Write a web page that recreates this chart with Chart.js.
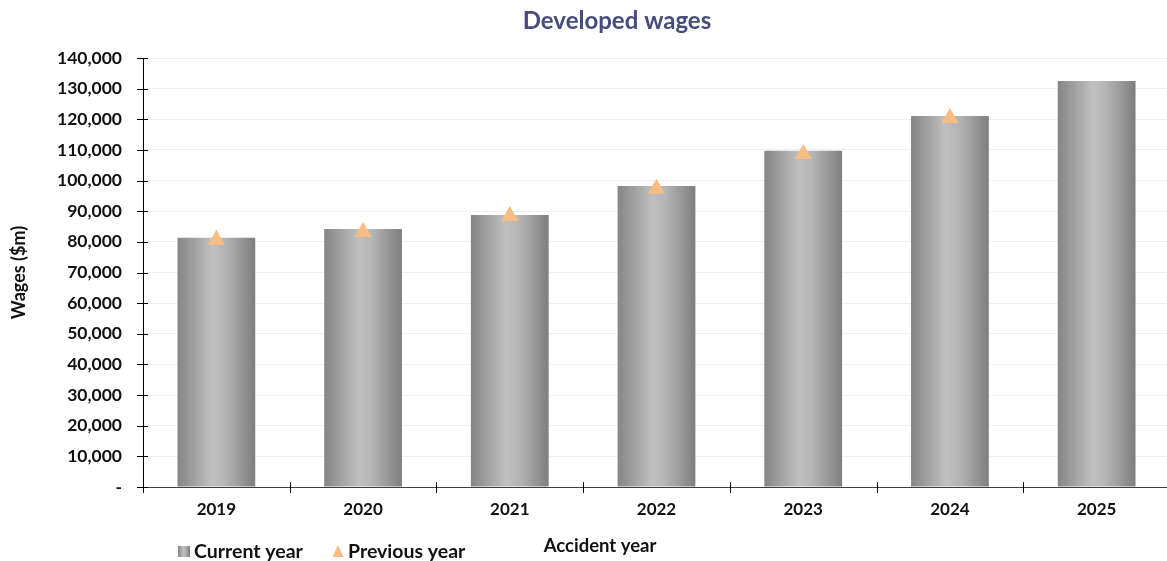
<!DOCTYPE html>
<html>
<head>
<meta charset="utf-8">
<script src="https://cdn.jsdelivr.net/npm/chart.js@4"></script>
<style>
  html, body { margin: 0; padding: 0; background: #fff; overflow: hidden; }
  #wrap { width: 1180px; height: 561px; position: relative; }
</style>
</head>
<body>
<div id="wrap"><canvas id="chart"></canvas></div>
<script>
// 年份與數值
const years = ['2019', '2020', '2021', '2022', '2023', '2024', '2025']
const currentYear = [81300, 84200, 88800, 98200, 109700, 121100, 132500]
const previousYear = [80700, 83200, 88400, 97300, 108700, 120400, null]
const yTicks = [0, 10000, 20000, 30000, 40000, 50000, 60000, 70000, 80000, 90000, 100000, 110000, 120000, 130000, 140000]

const FONT = 'Lato, "Noto Sans", sans-serif'
const BAR_PCT = 0.53

// 長條的橫向漸層（深-淺-深）
function barGradient(g, x0, x1) {
  const grad = g.createLinearGradient(x0, 0, x1, 0)
  grad.addColorStop(0, '#858585')
  grad.addColorStop(0.45, '#c0c0c0')
  grad.addColorStop(0.62, '#b4b4b4')
  grad.addColorStop(1, '#7e7e7e')
  return grad
}

function barColor(ctx) {
  const chart = ctx.chart
  const x = chart.scales.x
  if (!x || !chart.chartArea) return '#a0a0a0'
  const cx = x.getPixelForValue(ctx.dataIndex)
  const w = x.width / years.length * BAR_PCT
  return barGradient(chart.ctx, cx - w / 2, cx + w / 2)
}

// 標題、x軸標題、圖例、交叉刻度
const extras = {
  id: 'extras',
  afterDraw(chart) {
    const g = chart.ctx
    const xs = chart.scales.x
    const ys = chart.scales.y
    const area = chart.chartArea
    g.save()

    // 交叉刻度線
    g.strokeStyle = '#000'
    g.lineWidth = 1
    g.beginPath()
    ys.ticks.forEach(t => {
      const py = Math.round(ys.getPixelForValue(t.value)) + 0.5
      g.moveTo(area.left - 6, py)
      g.lineTo(area.left + 5, py)
    })
    for (let i = 0; i <= years.length; i++) {
      const px = Math.round(area.left + i * xs.width / years.length) + 0.5
      g.moveTo(px, area.bottom - 5)
      g.lineTo(px, area.bottom + 6)
    }
    g.stroke()

    // 標題
    g.fillStyle = '#474c7c'
    g.font = 'bold 24px ' + FONT
    g.textAlign = 'center'
    g.textBaseline = 'middle'
    g.fillText('Developed wages', 617, 21)

    // x軸標題
    g.fillStyle = '#111'
    g.font = 'bold 18.5px ' + FONT
    g.fillText('Accident year', 600, 546)

    // 圖例
    g.textAlign = 'left'
    g.font = 'bold 19.5px ' + FONT
    const ly = 552
    g.fillStyle = barGradient(g, 178, 190)
    g.fillRect(178, ly - 6, 12, 11)
    g.fillStyle = '#111'
    g.fillText(chart.data.datasets[0].label, 194, ly)

    const ds = chart.data.datasets[1]
    g.fillStyle = ds.backgroundColor
    g.beginPath()
    g.moveTo(338, ly - 7)
    g.lineTo(343.5, ly + 5)
    g.lineTo(332.5, ly + 5)
    g.closePath()
    g.fill()
    g.fillStyle = '#111'
    g.fillText(ds.label, 348, ly)

    g.restore()
  }
}

const ctx = document.getElementById('chart').getContext('2d')
const myChart = new Chart(ctx, {
  type: 'bar',
  data: {
    labels: years,
    datasets: [
      {
        label: 'Current year',
        data: currentYear,
        backgroundColor: barColor,
        barPercentage: BAR_PCT,
        categoryPercentage: 1,
        order: 2
      },
      {
        type: 'line',
        label: 'Previous year',
        data: previousYear,
        showLine: false,
        pointStyle: 'triangle',
        pointRadius: 10,
        pointHoverRadius: 10,
        backgroundColor: '#f7bd83',
        borderColor: '#f7bd83',
        borderWidth: 0,
        order: 1
      }
    ]
  },
  options: {
    responsive: true,
    maintainAspectRatio: false,
    animation: false,
    layout: { padding: { top: 58, right: 0, bottom: 0, left: 0 } },
    plugins: {
      legend: { display: false },
      title: { display: false },
      tooltip: { enabled: false }
    },
    scales: {
      x: {
        grid: { drawOnChartArea: false, drawTicks: false, offset: true },
        border: { color: '#404040', width: 1 },
        ticks: {
          padding: 12,
          color: '#111',
          font: { family: FONT, size: 17, weight: 'bold' }
        },
        afterFit(scale) { scale.height = 74 }
      },
      y: {
        min: 0,
        max: 140000,
        afterBuildTicks(scale) { scale.ticks = yTicks.map(v => ({ value: v })) },
        grid: { color: '#efefef', drawTicks: false },
        border: { color: '#000', width: 1 },
        ticks: {
          padding: 21,
          color: '#111',
          font: { family: FONT, size: 17.5, weight: 'bold' },
          callback: v => v === 0 ? '-' : v.toLocaleString('en-US')
        },
        title: {
          display: true,
          text: 'Wages ($m)',
          color: '#111',
          padding: { top: 8, bottom: 0 },
          font: { family: FONT, size: 18, weight: 'bold' }
        },
        afterFit(scale) { scale.width = 143 }
      }
    }
  },
  plugins: [extras]
})
</script>
</body>
</html>
